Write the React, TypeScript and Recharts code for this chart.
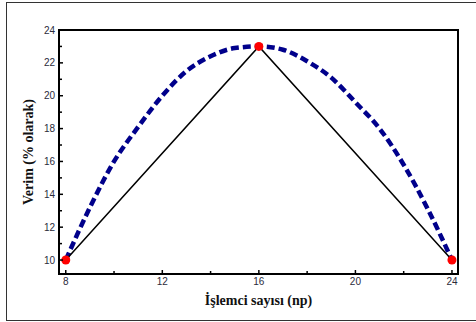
import React from 'react';
import { LineChart, Line, XAxis, YAxis, ReferenceArea } from 'recharts';

// ucgen (olculen) noktalar
const npValues = [8, 16, 24];
const verimValues = [10, 23, 10];

// kesikli egri
const curveX = [8, 9, 10, 11, 12, 13, 14, 15, 16, 17, 18, 19, 20, 21, 22, 23, 24];
const curveY = [10, 13.2, 16.0, 18.1, 20.0, 21.5, 22.4, 22.9, 23.0, 22.8, 22.1, 21.1, 19.6, 18.0, 15.8, 13.1, 10];

const xTicks = [8, 10, 12, 14, 16, 18, 20, 22, 24];
const yTicks = [10, 11, 12, 13, 14, 15, 16, 17, 18, 19, 20, 21, 22, 23, 24];

const X_DOMAIN: [number, number] = [7.72, 24.25];
const Y_DOMAIN: [number, number] = [9.15, 24];

const pointData = npValues.map((np, i) => ({ np, verim: verimValues[i] }));
const curveData = curveX.map((np, i) => ({ np, fit: curveY[i] }));

const TICK_MARGIN = 4;

function XTick(props: any) {
  const { x, y, payload } = props;
  const axisY = y - TICK_MARGIN;
  const major = payload.value % 4 === 0;
  return (
    <g>
      <line x1={x} x2={x} y1={axisY} y2={axisY - (major ? 4 : 3)} stroke="#000" strokeWidth={1.5} />
      {major && (
        <text x={x} y={y} dy="0.71em" textAnchor="middle" fontSize={10} fontFamily="'Liberation Sans', Arial, sans-serif" fill="#2b2b3b">
          {payload.value}
        </text>
      )}
    </g>
  );
}

function YTick(props: any) {
  const { x, y, payload } = props;
  const axisX = x + TICK_MARGIN;
  const major = payload.value % 2 === 0;
  return (
    <g>
      <line x1={axisX} x2={axisX + (major ? 4 : 3)} y1={y} y2={y} stroke="#000" strokeWidth={1.5} />
      {major && (
        <text x={x} y={y} dy="0.35em" textAnchor="end" fontSize={10} fontFamily="'Liberation Sans', Arial, sans-serif" fill="#2b2b3b">
          {payload.value}
        </text>
      )}
    </g>
  );
}

export default function App() {
  return (
    <div style={{ position: 'absolute', left: 0, top: 0, width: 476, height: 322, background: '#fff', overflow: 'hidden' }}>
      <div style={{ position: 'absolute', left: 6, top: 2, width: 490, height: 317, border: '1px solid #333' }} />
      <div style={{ position: 'absolute', left: 0, top: 0 }}>
        <LineChart width={476} height={322} margin={{ top: 30, right: 18, bottom: 0, left: 0 }}>
          <XAxis
            dataKey="np"
            type="number"
            domain={X_DOMAIN}
            ticks={xTicks}
            allowDataOverflow
            height={48}
            tickSize={0}
            tickMargin={TICK_MARGIN}
            tickLine={false}
            axisLine={false}
            tick={<XTick />}
            interval={0}
            label={{
              value: 'İşlemci sayısı (np)',
              position: 'insideBottom',
              offset: 17,
              style: { fontFamily: "'Liberation Serif', 'Times New Roman', serif", fontWeight: 'bold', fontSize: 14, fill: '#111' },
            }}
          />
          <YAxis
            type="number"
            domain={Y_DOMAIN}
            ticks={yTicks}
            allowDataOverflow
            width={59}
            tickSize={0}
            tickMargin={TICK_MARGIN}
            tickLine={false}
            axisLine={false}
            tick={<YTick />}
            interval={0}
            label={{
              value: 'Verim (% olarak)',
              angle: -90,
              position: 'insideLeft',
              offset: 28,
              style: { textAnchor: 'middle', fontFamily: "'Liberation Serif', 'Times New Roman', serif", fontWeight: 'bold', fontSize: 14, fill: '#111' },
            }}
          />
          <ReferenceArea
            x1={X_DOMAIN[0]}
            x2={X_DOMAIN[1]}
            y1={Y_DOMAIN[0]}
            y2={Y_DOMAIN[1]}
            fill="none"
            stroke="#000"
            strokeWidth={2}
            ifOverflow="visible"
          />
          <Line
            data={curveData}
            dataKey="fit"
            type="monotone"
            stroke="#00008b"
            strokeWidth={4.5}
            strokeDasharray="8 4"
            dot={false}
            isAnimationActive={false}
          />
          <Line
            data={pointData}
            dataKey="verim"
            type="linear"
            stroke="#000"
            strokeWidth={1.5}
            dot={{ r: 4.5, fill: '#ff0000', stroke: 'none' }}
            isAnimationActive={false}
          />
        </LineChart>
      </div>
    </div>
  );
}
